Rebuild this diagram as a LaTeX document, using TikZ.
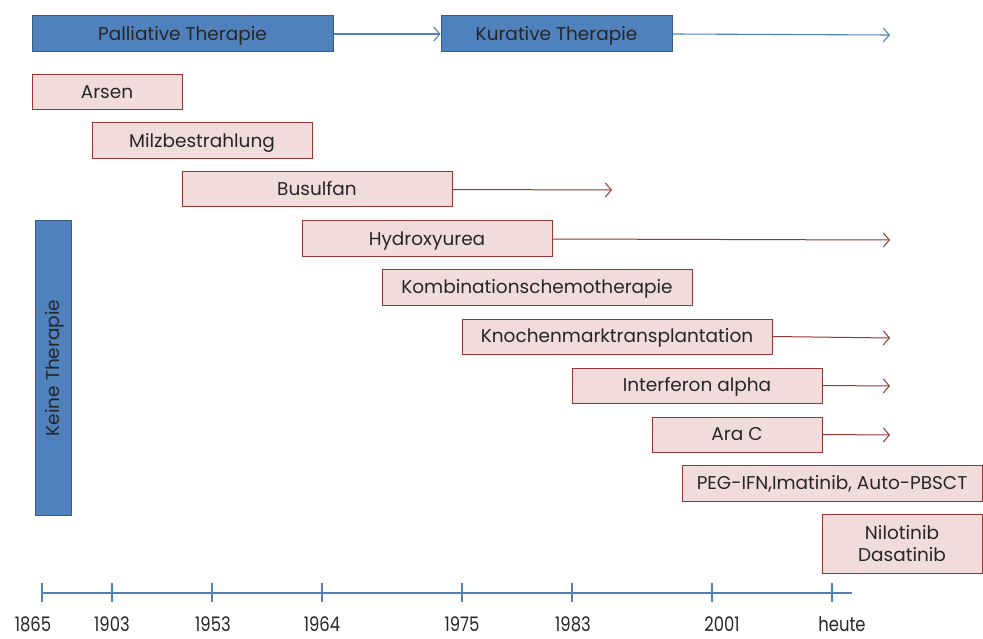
\documentclass[tikz,border=0pt]{standalone}
\usepackage{fontspec}
\setmainfont{Poppins}
\usetikzlibrary{arrows.meta}
\definecolor{bfill}{HTML}{4F81BD}
\definecolor{bdraw}{HTML}{385D8A}
\definecolor{pfill}{HTML}{F2DCDB}
\definecolor{pdraw}{HTML}{943634}
\newcommand\mybox[7]{\node[#2, minimum width={(#5-#3)*1pt}, minimum height={(#6-#4)*1pt}] (#1) at ({(#3+#5)/2},{(#4+#6)/2}) {#7};}
\tikzset{
  base/.style={draw, line width=1pt, inner sep=0pt, font=\fontsize{18.5}{22}\selectfont, text=black!85},
  oneline/.style={text height=14pt, text depth=1.5pt},
  bluebox/.style={base, oneline, fill=bfill, draw=bdraw},
  pinkbox/.style={base, oneline, fill=pfill, draw=pdraw},
  pinkboxml/.style={base, fill=pfill, draw=pdraw, align=center},
  barrow/.style={draw=bfill, line width=1.1pt, -{Straight Barb[length=6pt,width=14pt]}},
  rarrow/.style={draw=pdraw, line width=1pt, -{Straight Barb[length=6pt,width=14pt]}},
  axisline/.style={draw=bfill, line width=1.1pt},
  yearlbl/.style={font=\fontsize{20}{24}\selectfont, text=black!85, inner sep=0pt, xscale=0.82}
}
\begin{document}
\begin{tikzpicture}[x=1pt,y=-1pt]
\useasboundingbox (0,0) rectangle (983,639);
\mybox{pall}{bluebox}{32}{16}{333}{52}{Palliative Therapie}
\mybox{kur}{bluebox}{441}{16}{672}{52}{Kurative Therapie}
\coordinate (kurend) at (890,35);
\draw[barrow] (pall.east) -- (kur.west);
\draw[barrow] (kur.east) -- (kurend);

\mybox{arsen}{pinkbox}{32}{75}{182}{110}{Arsen}
\mybox{milz}{pinkbox}{92}{123}{312}{159}{Milzbestrahlung}
\mybox{busu}{pinkbox}{182}{172}{452}{207}{Busulfan}
\mybox{hydro}{pinkbox}{302}{221}{552}{257}{Hydroxyurea}
\mybox{kombi}{pinkbox}{382}{270}{692}{305}{Kombinationschemotherapie}
\mybox{knoch}{pinkbox}{462}{319}{772}{354}{Knochenmarktransplantation}
\mybox{inter}{pinkbox}{572}{368}{822}{403}{Interferon alpha}
\mybox{arac}{pinkbox}{652}{417}{822}{452}{Ara C}
\mybox{peg}{pinkbox}{682}{465}{982}{501}{PEG-IFN,Imatinib, Auto-PBSCT}
\mybox{nilo}{pinkboxml}{822}{514}{982}{573}{Nilotinib\\Dasatinib}

\node[bluebox, rotate=90, minimum width=294pt, minimum height=36pt] (keine) at (53,368) {Keine Therapie};

\coordinate (busend) at (612,190);
\coordinate (hydend) at (890,240);
\coordinate (knoend) at (890,338);
\coordinate (intend) at (890,386);
\coordinate (araend) at (890,435);
\draw[rarrow] (busu.east) -- (busend);
\draw[rarrow] (hydro.east) -- (hydend);
\draw[rarrow] (knoch.east) -- (knoend);
\draw[rarrow] (inter.east) -- (intend);
\draw[rarrow] (arac.east) -- (araend);

\coordinate (axs) at (42,593);
\coordinate (axe) at (852,593);
\draw[axisline] (axs) -- (axe);
\foreach \x/\lab/\lx in {42/1865/33, 112/1903/112, 212/1953/213, 322/1964/322, 462/1975/462, 572/1983/573, 712/2001/722, 832/heute/842}{
  \draw[axisline] (\x,583) -- (\x,602);
  \node[yearlbl, anchor=base] at (\lx,631) {\lab};
}
\end{tikzpicture}
\end{document}
